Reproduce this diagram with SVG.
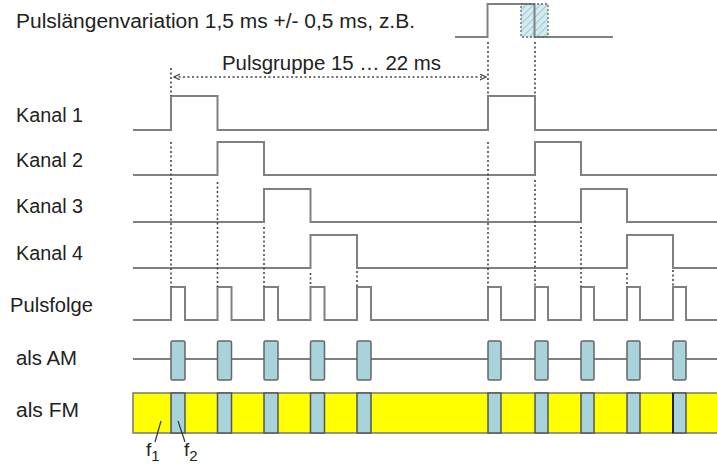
<svg xmlns="http://www.w3.org/2000/svg" width="717" height="465" viewBox="0 0 717 465">
<style>
text{font-family:"Liberation Sans",Arial,sans-serif;fill:#222;font-size:20px}
.sig{fill:none;stroke:#808080;stroke-width:2}
.dot{fill:none;stroke:#444;stroke-width:1.6;stroke-dasharray:2,2.5}
.am{fill:#a9d3da;stroke:#666;stroke-width:1.5}
.fmb{fill:#a9d3da;stroke:#555;stroke-width:1.5}
.lead{stroke:#333;stroke-width:1.2;fill:none}
</style>
<defs>
<pattern id="hatch" width="5" height="5" patternUnits="userSpaceOnUse" patternTransform="rotate(45)">
<rect width="5" height="5" fill="#d3eaee"/>
<line x1="0" y1="0" x2="0" y2="5" stroke="#9ccad2" stroke-width="2"/>
</pattern>
<marker id="ah" markerWidth="8" markerHeight="8" refX="6" refY="3" orient="auto-start-reverse" markerUnits="userSpaceOnUse">
<path d="M0,0 L6,3 L0,6" fill="none" stroke="#444" stroke-width="1.2"/>
</marker>
</defs>
<rect width="717" height="465" fill="#fff"/>

<g id="header">
<text x="16" y="28" textLength="399" lengthAdjust="spacingAndGlyphs">Pulslängenvariation 1,5 ms +/- 0,5 ms, z.B.</text>
<rect x="521" y="4" width="27" height="33" fill="url(#hatch)"/>
<path class="sig" d="M455,37 H487.5 V4 H534.5 V37 H613"/>
<rect x="521" y="4" width="27" height="33" fill="none" stroke="#666" stroke-width="1.3" stroke-dasharray="2,2"/>
</g>

<g id="pulsgruppe">
<text x="222" y="70" textLength="219" lengthAdjust="spacingAndGlyphs">Pulsgruppe 15 … 22 ms</text>
</g>

<g id="kanal1">
<text x="16" y="122" textLength="67" lengthAdjust="spacingAndGlyphs">Kanal 1</text>
<path class="sig" d="M133,130 H171 V96 H217.5 V130 H488 V96 H535 V130 H717"/>
</g>
<g id="kanal2">
<text x="16" y="167" textLength="67" lengthAdjust="spacingAndGlyphs">Kanal 2</text>
<path class="sig" d="M133,175 H217.5 V142 H264 V175 H535 V142 H581 V175 H717"/>
</g>
<g id="kanal3">
<text x="16" y="213" textLength="67" lengthAdjust="spacingAndGlyphs">Kanal 3</text>
<path class="sig" d="M133,222 H264 V189 H310.5 V222 H581 V189 H627 V222 H717"/>
</g>
<g id="kanal4">
<text x="16" y="260" textLength="67" lengthAdjust="spacingAndGlyphs">Kanal 4</text>
<path class="sig" d="M133,268 H310.5 V235 H357 V268 H627 V235 H673 V268 H717"/>
</g>
<g id="pulsfolge">
<text x="10" y="312" textLength="83" lengthAdjust="spacingAndGlyphs">Pulsfolge</text>
<path class="sig" d="M133,320 H171 V287 H185 V320 H217.5 V287 H231.5 V320 H264 V287 H278 V320 H310.5 V287 H324.5 V320 H357 V287 H371 V320 H488 V287 H501 V320 H535 V287 H548 V320 H581 V287 H594 V320 H627 V287 H640 V320 H673 V287 H686 V320 H717"/>
</g>
<g id="als-am">
<text x="16" y="365" textLength="61" lengthAdjust="spacingAndGlyphs">als AM</text>
<line x1="133" y1="359" x2="717" y2="359" stroke="#555" stroke-width="1.5"/>
<rect class="am" x="171" y="341" width="14" height="39" rx="1.5"/>
<rect class="am" x="217.5" y="341" width="14" height="39" rx="1.5"/>
<rect class="am" x="264" y="341" width="14" height="39" rx="1.5"/>
<rect class="am" x="310.5" y="341" width="14" height="39" rx="1.5"/>
<rect class="am" x="357" y="341" width="14" height="39" rx="1.5"/>
<rect class="am" x="488" y="341" width="13" height="39" rx="1.5"/>
<rect class="am" x="535" y="341" width="13" height="39" rx="1.5"/>
<rect class="am" x="581" y="341" width="13" height="39" rx="1.5"/>
<rect class="am" x="627" y="341" width="13" height="39" rx="1.5"/>
<rect class="am" x="673" y="341" width="13" height="39" rx="1.5"/>
</g>
<g id="als-fm">
<text x="16" y="417" textLength="63" lengthAdjust="spacingAndGlyphs">als FM</text>
<rect x="133" y="393" width="590" height="40" fill="#ffff00" stroke="#777" stroke-width="1.5"/>
<rect class="fmb" x="171" y="393" width="14" height="40"/>
<rect class="fmb" x="217.5" y="393" width="14" height="40"/>
<rect class="fmb" x="264" y="393" width="14" height="40"/>
<rect class="fmb" x="310.5" y="393" width="14" height="40"/>
<rect class="fmb" x="357" y="393" width="14" height="40"/>
<rect class="fmb" x="488" y="393" width="13" height="40"/>
<rect class="fmb" x="535" y="393" width="13" height="40"/>
<rect class="fmb" x="581" y="393" width="13" height="40"/>
<rect class="fmb" x="627" y="393" width="13" height="40"/>
<rect class="fmb" x="673" y="393" width="13" height="40"/>
<line x1="673" y1="393" x2="673" y2="433" stroke="#222" stroke-width="2"/>
</g>
<g id="f1">
<line class="lead" x1="155" y1="442" x2="161" y2="421"/>
<text x="146" y="456" style="font-size:19px">f<tspan dy="5" style="font-size:15px">1</tspan></text>
</g>
<g id="f2">
<line class="lead" x1="185" y1="442" x2="178" y2="421"/>
<text x="184" y="456" style="font-size:19px">f<tspan dy="5" style="font-size:15px">2</tspan></text>
</g>

<g id="connectors">
<line class="dot" x1="174" y1="77" x2="486" y2="77" marker-start="url(#ah)" marker-end="url(#ah)"/>
<line class="dot" x1="171" y1="68" x2="171" y2="96"/>
<line class="dot" x1="171" y1="142" x2="171" y2="287"/>
<line class="dot" x1="217.5" y1="182" x2="217.5" y2="287"/>
<line class="dot" x1="264" y1="227" x2="264" y2="287"/>
<line class="dot" x1="310.5" y1="273" x2="310.5" y2="287"/>
<line class="dot" x1="357" y1="271" x2="357" y2="287"/>
<line class="dot" x1="488" y1="42" x2="488" y2="96"/>
<line class="dot" x1="535" y1="42" x2="535" y2="96"/>
<line class="dot" x1="488" y1="142" x2="488" y2="287"/>
<line class="dot" x1="535" y1="180" x2="535" y2="287"/>
<line class="dot" x1="581" y1="227" x2="581" y2="287"/>
<line class="dot" x1="627" y1="273" x2="627" y2="287"/>
<line class="dot" x1="673" y1="270" x2="673" y2="287"/>
</g>
</svg>
